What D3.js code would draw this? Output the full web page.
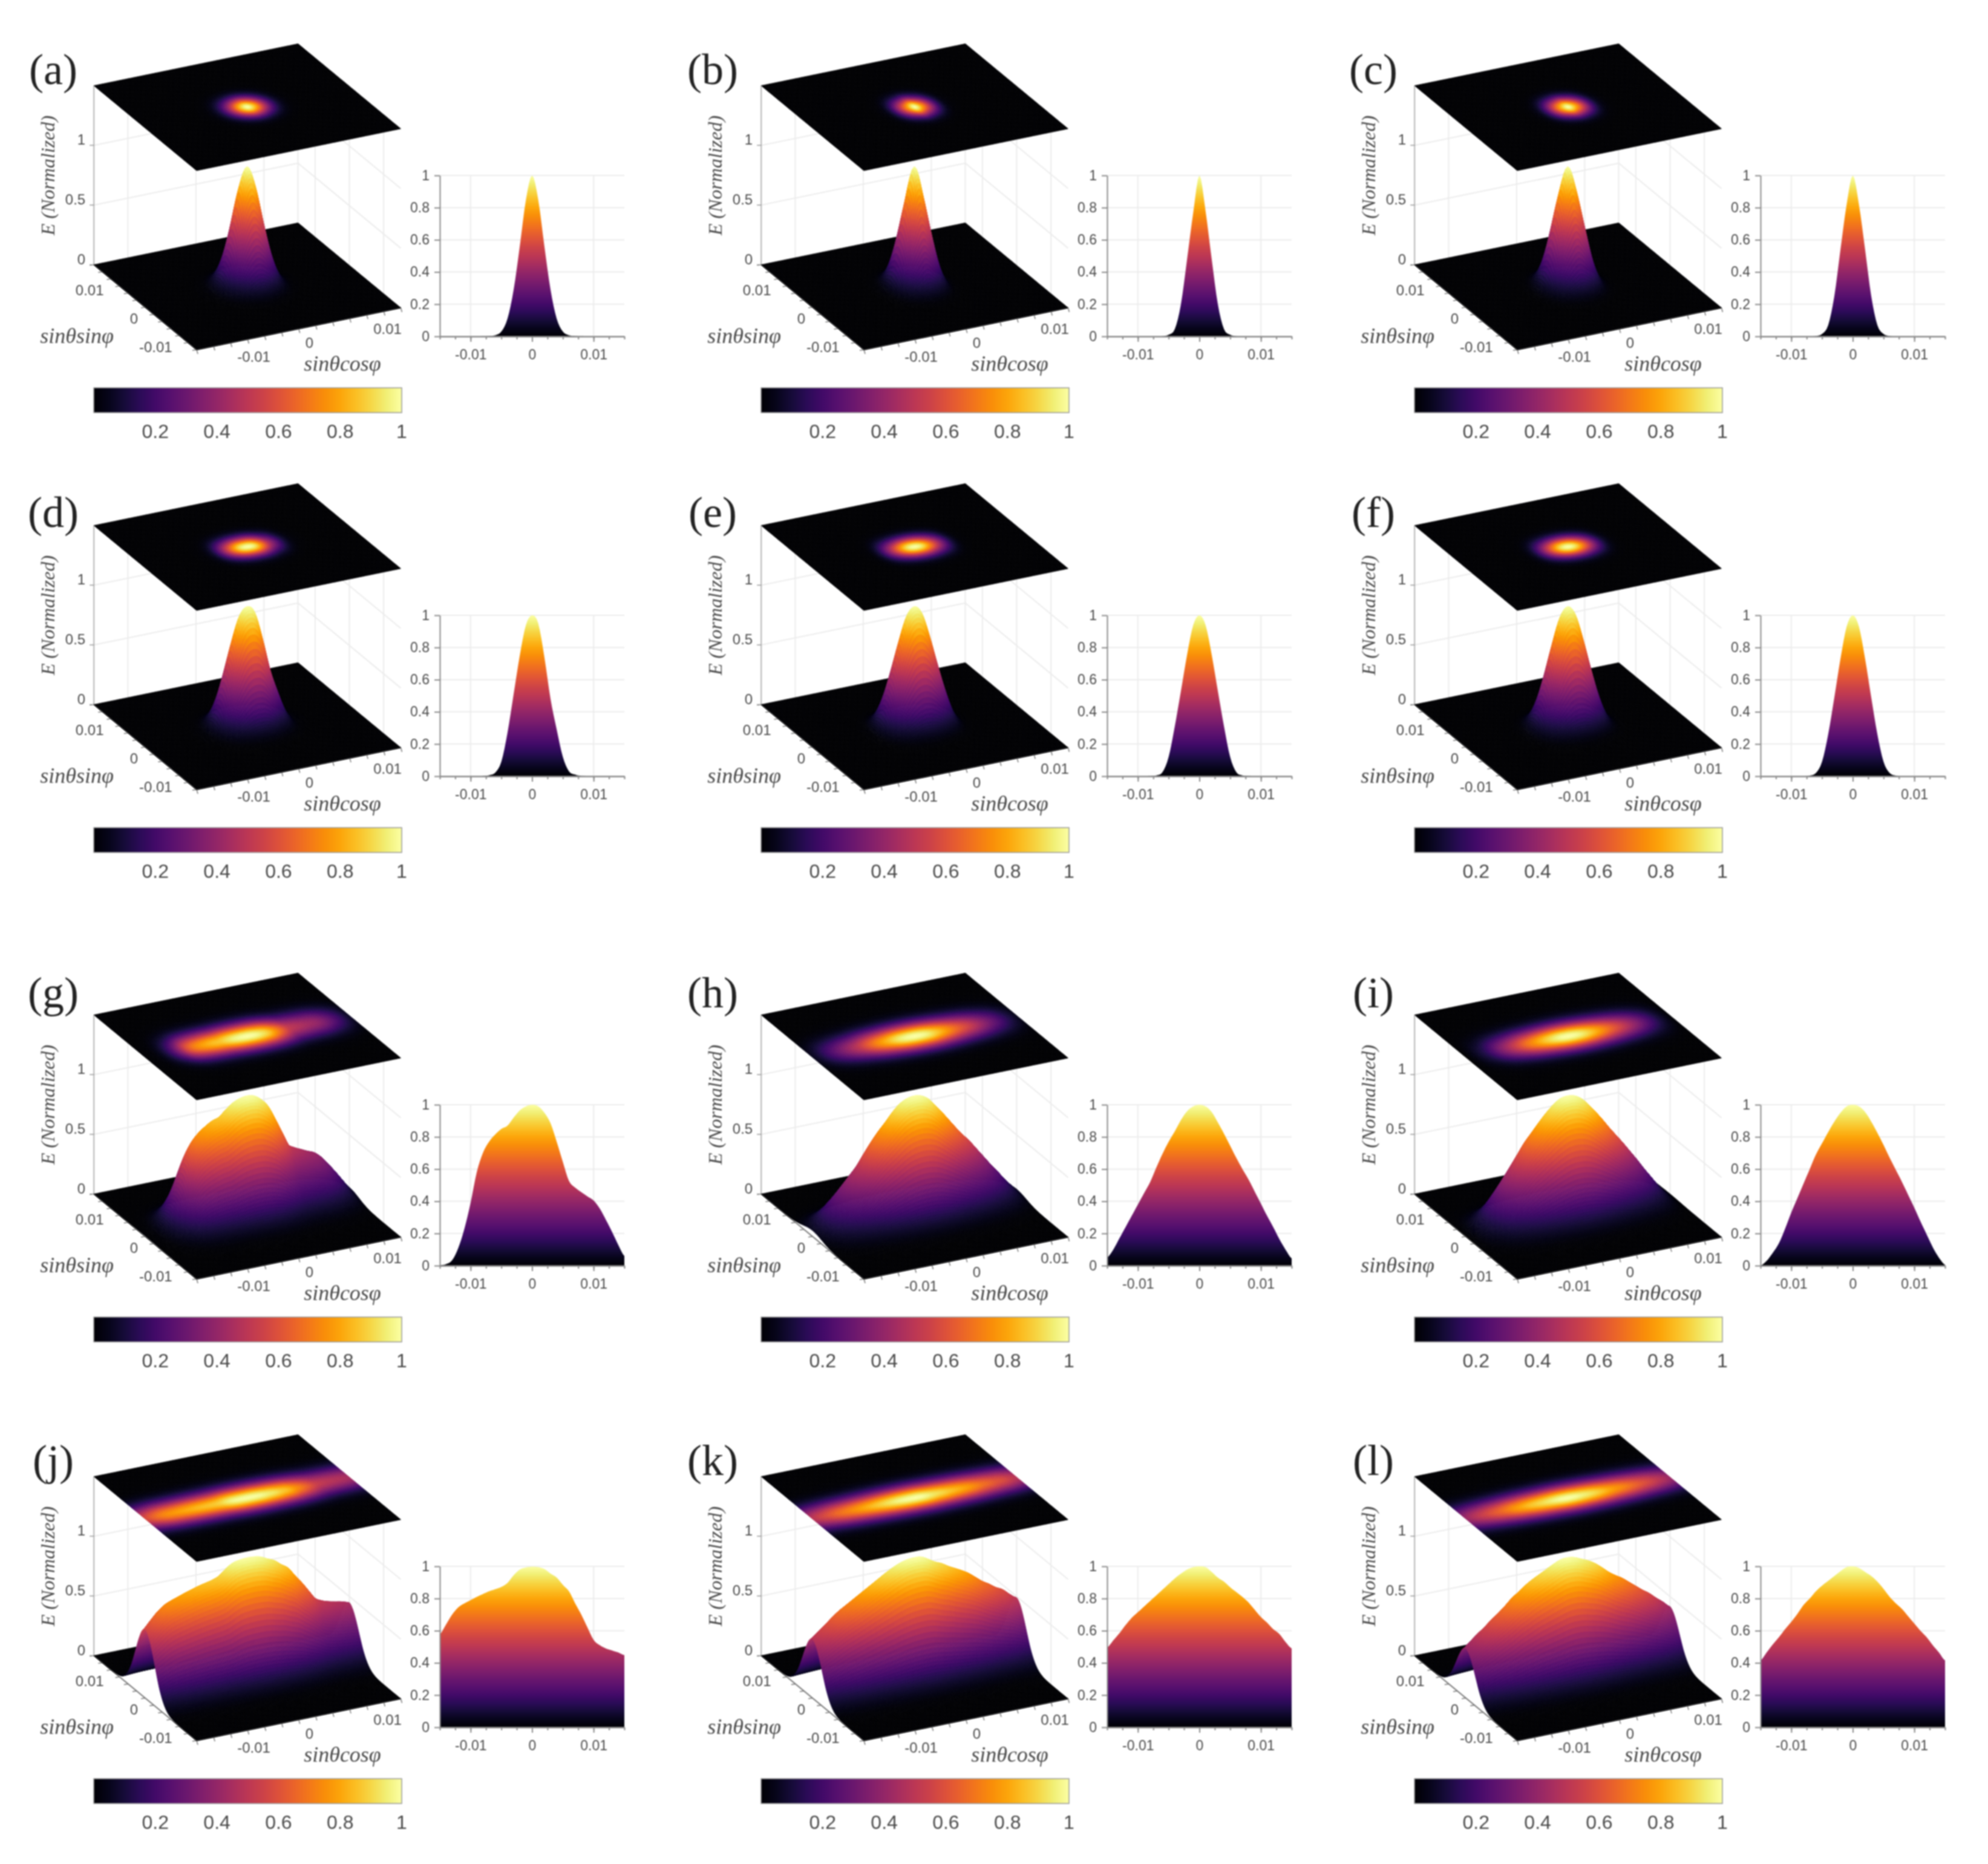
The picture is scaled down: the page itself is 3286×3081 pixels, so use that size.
<!DOCTYPE html>
<html><head><meta charset="utf-8">
<script src="https://cdn.jsdelivr.net/npm/d3@7"></script>
<style>
html,body{margin:0;padding:0;background:#fff;}
#stage{position:relative;width:3286px;height:3081px;overflow:hidden;background:#fff;}
#stage>*{position:absolute;left:0;top:0;filter:blur(1.1px);}
</style></head><body><div id="stage"></div>
<script>
const profileA=[0,0,0,0,0,0,0,.001,.002,.007,.03,.11,.29,.56,.85,1,.85,.56,.29,.11,.03,.007,.002,.001,0,0,0,0,0,0,0];
const profileB=[0,0,0,0,0,0,0,0,0,.001,.01,.045,.2,.48,.77,1,.78,.48,.2,.045,.01,.001,0,0,0,0,0,0,0,0,0];
const profileC=[0,0,0,0,0,0,0,0,0,.002,.015,.07,.25,.54,.82,1,.82,.54,.25,.07,.015,.002,0,0,0,0,0,0,0,0,0];
const profileD=[0,0,0,0,0,0,0,.001,.006,.022,.09,.27,.51,.75,.94,1,.95,.74,.48,.29,.12,.03,.01,.002,0,0,0,0,0,0,0];
const profileE=[0,0,0,0,0,0,0,.001,.005,.025,.12,.31,.53,.755,.94,1,.94,.755,.53,.31,.12,.025,.005,.001,0,0,0,0,0,0,0];
const profileF=[0,0,0,0,0,0,0,0,.004,.02,.09,.26,.49,.73,.93,1,.93,.73,.49,.26,.09,.02,.004,0,0,0,0,0,0,0,0];
const profileG=[.003,.009,.034,.11,.23,.39,.58,.7,.77,.815,.85,.87,.92,.965,.99,1,.99,.95,.885,.77,.645,.526,.485,.457,.43,.405,.355,.285,.21,.13,.06];
const profileH=[.05,.1,.17,.24,.31,.38,.45,.52,.61,.695,.77,.835,.905,.96,.99,1,.99,.955,.89,.82,.745,.67,.6,.535,.46,.385,.31,.24,.165,.1,.045];
const profileI=[0,.03,.08,.14,.23,.33,.42,.51,.6,.69,.76,.83,.895,.95,.99,1,.99,.955,.895,.825,.75,.67,.595,.52,.44,.36,.275,.195,.115,.05,.005];
const profileJ=[.578,.638,.7,.745,.77,.79,.81,.828,.845,.858,.872,.897,.945,.98,.993,.998,.995,.983,.955,.93,.885,.845,.77,.7,.62,.543,.51,.49,.477,.465,.448];
const profileK=[.495,.54,.585,.635,.68,.715,.75,.785,.82,.855,.89,.925,.955,.98,.995,1,.995,.965,.93,.905,.87,.84,.81,.775,.73,.685,.65,.61,.58,.53,.49];
const profileL=[.415,.465,.515,.56,.61,.655,.705,.76,.8,.845,.88,.91,.94,.97,.995,1,.99,.965,.94,.905,.86,.81,.77,.735,.69,.645,.6,.56,.51,.465,.415];
// sinθsinφ samples across the ridge, same grid
const acrossSpot=[0,0,0,0,0,0,0,.001,.004,.017,.059,.163,.36,.63,.89,1,.89,.63,.36,.163,.059,.017,.004,.001,0,0,0,0,0,0,0];
const acrossRidge=[0,0,0,0,0,.002,.006,.017,.044,.1,.203,.36,.565,.775,.94,1,.94,.775,.565,.36,.203,.1,.044,.017,.006,.002,0,0,0,0,0];
const acrossLine=[0,0,0,0,0,.001,.004,.012,.035,.085,.18,.33,.54,.76,.93,1,.93,.76,.54,.33,.18,.085,.035,.012,.004,.001,0,0,0,0,0];

const panelLetters=['a','b','c','d','e','f','g','h','i','j','k','l'];
const panelProfiles=[profileA,profileB,profileC,profileD,profileE,profileF,profileG,profileH,profileI,profileJ,profileK,profileL];
const panelAcross=[acrossSpot,acrossSpot,acrossSpot,acrossSpot,acrossSpot,acrossSpot,acrossRidge,acrossRidge,acrossRidge,acrossLine,acrossLine,acrossLine];
const angleTicks=[-0.01,0,0.01];
const angleMinorTicks=d3.range(-0.015,0.01501,0.0025);
const heightTicks3D=[0,0.5,1];
const heightTicks2D=[0,0.2,0.4,0.6,0.8,1];
const colorTicks=[0.2,0.4,0.6,0.8,1];
const titleX='sinθcosφ', titleY='sinθsinφ', titleZ='E (Normalized)';

const colOffset=[0,1103,2183], rowOffset=[0,727,1536,2299];
const labelCentersX=[88,1178,2270], labelCentersY=[115,847,1641,2414];
const textCol='#4a4a4a', axisCol='#8a8a8a', gridCol='#ececec';
const W=3286,H=3081;

const stage=d3.select('#stage');
const under=stage.append('svg').attr('width',W).attr('height',H);
const canvas=stage.append('canvas').attr('width',W).attr('height',H);
const over=stage.append('svg').attr('width',W).attr('height',H);
const ctx=canvas.node().getContext('2d');

const inferno=d3.scaleSequential([0,1],d3.interpolateInferno);
const lut=d3.range(256).map(i=>d3.color(inferno(i/255)).formatHex());
const colorOf=v=>lut[Math.max(0,Math.min(255,Math.round(v*255)))];

// smooth reader through sampled values
const gridIndex=d3.scaleLinear([-0.015,0.015],[0,30]);
function sampler(vals){
  return x=>{
    const t=gridIndex(x), i=Math.max(0,Math.min(vals.length-2,Math.floor(t))), f=t-i;
    const p0=vals[Math.max(0,i-1)],p1=vals[i],p2=vals[i+1],p3=vals[Math.min(vals.length-1,i+2)];
    const r=0.5*((2*p1)+(-p0+p2)*f+(2*p0-5*p1+4*p2-p3)*f*f+(-p0+3*p1-3*p2+p3)*f*f*f);
    return Math.max(0,Math.min(1,r));
  };
}

const u3=d3.scaleLinear([-0.015,0.015],[0,1]);
const zPx=d3.scaleLinear([0,1.5],[0,-296]);
const B0=[325,578], ex=[337.4,-69.2], ey=[-169.8,-140.4];
const projector=(ox,oy)=>(x,y,z)=>{
  const a=u3(x),b=u3(y);
  return [ox+B0[0]+a*ex[0]+b*ey[0], oy+B0[1]+a*ex[1]+b*ey[1]+zPx(z)];
};

panelLetters.forEach((letter,idx)=>{
  const c=idx%3,r=Math.floor(idx/3),ox=colOffset[c],oy=rowOffset[r];
  const P=projector(ox,oy), prof=sampler(panelProfiles[idx]), acr=sampler(panelAcross[idx]);
  const E=(x,y)=>prof(x)*acr(y);
  const domain=[-0.015,0.015];

  // ---- back walls and 3-D axes
  const g=under.append('g');
  const seg=(a,b,col,w)=>g.append('line').attr('x1',a[0]).attr('y1',a[1]).attr('x2',b[0]).attr('y2',b[1]).attr('stroke',col).attr('stroke-width',w);
  heightTicks3D.filter(z=>z>0).forEach(z=>{
    seg(P(-0.015,0.015,z),P(0.015,0.015,z),gridCol,2);
    seg(P(0.015,0.015,z),P(0.015,-0.015,z),gridCol,2);
  });
  angleTicks.forEach(t=>{
    seg(P(t,0.015,0),P(t,0.015,1.5),gridCol,2);
    seg(P(0.015,t,0),P(0.015,t,1.5),gridCol,2);
  });
  seg(P(0.015,0.015,0),P(0.015,0.015,1.5),gridCol,2);
  seg(P(-0.015,0.015,0),P(-0.015,0.015,1.5),'#b5b5b5',2);
  seg(P(-0.015,0.015,0),P(-0.015,-0.015,0),'#777',2);
  seg(P(-0.015,-0.015,0),P(0.015,-0.015,0),'#777',2);
  angleMinorTicks.forEach(t=>{
    const a=P(-0.015,t,0), b=P(t,-0.015,0);
    seg(a,[a[0]-7,a[1]+1],'#777',1.5);
    seg(b,[b[0]+2,b[1]+7],'#777',1.5);
  });
  heightTicks3D.forEach(z=>{const a=P(-0.015,0.015,z); seg(a,[a[0]-7,a[1]],'#999',1.5);});

  // ---- surface (back to front) and projected map on top
  const N=150, xs=d3.range(N+1).map(i=>domain[1]-(domain[1]-domain[0])*i/N);
  const ys=xs;
  const field=ys.map(y=>xs.map(x=>E(x,y)));
  const quad=(a,b,cc,d,col)=>{
    ctx.fillStyle=col;ctx.strokeStyle=col;
    ctx.beginPath();ctx.moveTo(a[0],a[1]);ctx.lineTo(b[0],b[1]);ctx.lineTo(cc[0],cc[1]);ctx.lineTo(d[0],d[1]);ctx.closePath();
    ctx.fill();ctx.stroke();
  };
  ctx.lineWidth=0.8;
  for(let j=0;j<N;j++)for(let i=0;i<N;i++){
    const v=(field[j][i]+field[j][i+1]+field[j+1][i]+field[j+1][i+1])/4;
    quad(P(xs[i],ys[j],field[j][i]),P(xs[i+1],ys[j],field[j][i+1]),P(xs[i+1],ys[j+1],field[j+1][i+1]),P(xs[i],ys[j+1],field[j+1][i]),colorOf(v));
  }
  for(let j=0;j<N;j++)for(let i=0;i<N;i++){
    const v=(field[j][i]+field[j][i+1]+field[j+1][i]+field[j+1][i+1])/4;
    quad(P(xs[i],ys[j],1.5),P(xs[i+1],ys[j],1.5),P(xs[i+1],ys[j+1],1.5),P(xs[i],ys[j+1],1.5),colorOf(v));
  }

  // ---- labels of the 3-D view
  const t=over.append('g').attr('font-family','"Liberation Sans",Arial,sans-serif').attr('fill',textCol);
  heightTicks3D.forEach(z=>{const a=P(-0.015,0.015,z);
    t.append('text').attr('x',a[0]-14).attr('y',a[1]-1).attr('text-anchor','end').attr('font-size',24).text(String(z));});
  angleTicks.forEach(v=>{
    const a=P(-0.015,v,0);
    t.append('text').attr('x',a[0]-12).attr('y',a[1]+27).attr('text-anchor','end').attr('font-size',24).text(String(v));
    const b=P(v,-0.015,0);
    t.append('text').attr('x',b[0]+11).attr('y',b[1]+32).attr('font-size',24).text(String(v));
  });
  const serif='"Liberation Serif","Times New Roman",serif';
  t.append('text').attr('x',ox+127).attr('y',oy+567).attr('text-anchor','middle').attr('font-family',serif).attr('font-style','italic').attr('font-size',36).text(titleY);
  t.append('text').attr('x',ox+566).attr('y',oy+613).attr('text-anchor','middle').attr('font-family',serif).attr('font-style','italic').attr('font-size',36).text(titleX);
  t.append('text').attr('transform',`translate(${ox+90},${oy+290}) rotate(-90)`).attr('text-anchor','middle').attr('font-family',serif).attr('font-style','italic').attr('font-size',32).text(titleZ);
  t.append('text').attr('x',labelCentersX[c]).attr('y',labelCentersY[r]+24).attr('text-anchor','middle').attr('font-family',serif).attr('font-size',72).attr('fill','#222').text(`(${letter})`);

  // ---- colour bar
  const cbX=d3.scaleLinear([0,1],[ox+155,ox+664]), cbY=oy+641, cbH=41;
  const defs=over.append('defs');
  const gradBar=defs.append('linearGradient').attr('id','bar'+letter);
  d3.range(0,1.001,0.05).forEach(s=>gradBar.append('stop').attr('offset',s).attr('stop-color',inferno(s)));
  over.append('rect').attr('x',cbX(0)).attr('y',cbY).attr('width',cbX(1)-cbX(0)).attr('height',cbH).attr('fill',`url(#bar${letter})`).attr('stroke','#999').attr('stroke-width',1.5);
  over.append('g').attr('font-family','"Liberation Sans",Arial,sans-serif').attr('fill',textCol).attr('font-size',32)
    .selectAll('text').data(colorTicks).join('text').attr('x',d=>cbX(d)).attr('y',oy+724).attr('text-anchor','middle').text(d=>String(d));

  // ---- 2-D side view
  const sx=d3.scaleLinear(domain,[[727,1830,2910][c],[727,1830,2910][c]+305]);
  const sy=d3.scaleLinear([0,1],[556+rowOffset[r],290+rowOffset[r]]);
  const side=over.append('g');
  const gradSide=defs.append('linearGradient').attr('id','side'+letter).attr('gradientUnits','userSpaceOnUse')
    .attr('x1',0).attr('x2',0).attr('y1',sy(0)).attr('y2',sy(1));
  d3.range(0,1.001,0.05).forEach(s=>gradSide.append('stop').attr('offset',s).attr('stop-color',inferno(s)));
  side.append('g').selectAll('line').data(heightTicks2D.filter(d=>d>0)).join('line')
    .attr('x1',sx.range()[0]).attr('x2',sx.range()[1]).attr('y1',d=>sy(d)).attr('y2',d=>sy(d)).attr('stroke',gridCol).attr('stroke-width',2);
  side.append('g').selectAll('line').data(angleTicks).join('line')
    .attr('y1',sy(0)).attr('y2',sy(1)).attr('x1',d=>sx(d)).attr('x2',d=>sx(d)).attr('stroke',gridCol).attr('stroke-width',2);
  const fine=d3.range(-0.015,0.01501,0.00025);
  side.append('path').datum(fine)
    .attr('d',d3.area().x(d=>sx(d)).y0(sy(0)).y1(d=>sy(prof(d))))
    .attr('fill',`url(#side${letter})`);
  const axFont=g=>{g.attr('font-family','"Liberation Sans",Arial,sans-serif').attr('font-size',23);
    g.selectAll('path,line').attr('stroke',axisCol).attr('stroke-width',2);g.selectAll('text').attr('fill',textCol);};
  side.append('g').attr('transform',`translate(0,${sy(0)})`)
    .call(d3.axisBottom(sx).tickValues(angleTicks).tickFormat(String).tickSizeInner(9).tickSizeOuter(0).tickPadding(13)).call(axFont);
  side.append('g').attr('transform',`translate(0,${sy(0)})`)
    .call(d3.axisBottom(sx).tickValues(angleMinorTicks).tickFormat('').tickSizeInner(5).tickSizeOuter(0)).call(axFont);
  side.append('g').attr('transform',`translate(${sx.range()[0]},0)`)
    .call(d3.axisLeft(sy).tickValues(heightTicks2D).tickFormat(String).tickSizeInner(9).tickSizeOuter(0).tickPadding(8)).call(axFont);
});
</script></body></html>
